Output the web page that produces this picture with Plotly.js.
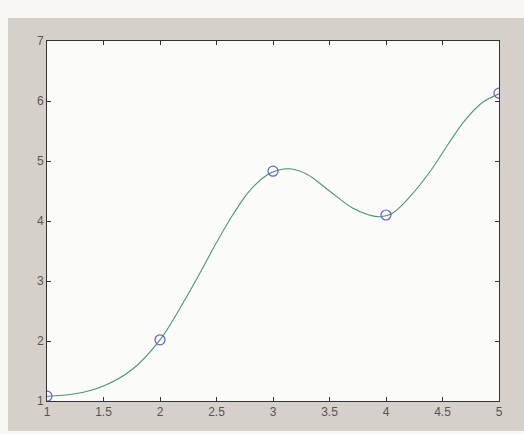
<!DOCTYPE html>
<html>
<head>
<meta charset="utf-8">
<script src="https://cdn.plot.ly/plotly-3.0.1.min.js"></script>
<style>html,body{margin:0;padding:0;background:#f8f7f4;}#chart{width:524px;height:434px;}</style>
</head>
<body>
<div id="chart"></div>
<script>
// Data points (markers)
const pointX = [1, 2, 3, 4, 5];
const pointY = [1.08, 2.02, 4.83, 4.1, 6.13];

// Interpolated curve
const curveX = [1, 1.25, 1.5, 1.75, 2, 2.2, 2.35, 2.5, 2.65, 2.8, 2.95, 3.05, 3.15, 3.3, 3.5, 3.7, 3.85, 3.95, 4.05, 4.2, 4.4, 4.55, 4.7, 4.85, 5];
const curveY = [1.08, 1.12, 1.25, 1.52, 2.02, 2.62, 3.12, 3.64, 4.12, 4.52, 4.77, 4.85, 4.87, 4.78, 4.5, 4.22, 4.1, 4.07, 4.12, 4.38, 4.85, 5.28, 5.68, 5.97, 6.12];

const xTicks = [1, 1.5, 2, 2.5, 3, 3.5, 4, 4.5, 5];
const xTickText = ['1', '1.5', '2', '2.5', '3', '3.5', '4', '4.5', '5'];
const yTicks = [1, 2, 3, 4, 5, 6, 7];
const yTickText = ['1', '2', '3', '4', '5', '6', '7'];

const W = 524, H = 434;
const mL = 47, mR = 25, mT = 41, mB = 33;
const pw = W - mL - mR, ph = H - mT - mB;
function px(x) { return (x - mL) / pw; }
function py(y) { return (H - mB - y) / ph; }

const traces = [
  {
    x: curveX, y: curveY, type: 'scatter', mode: 'lines',
    line: {color: '#4a9478', width: 1.1, shape: 'spline', smoothing: 1},
    hoverinfo: 'skip'
  },
  {
    x: pointX, y: pointY, type: 'scatter', mode: 'markers',
    marker: {symbol: 'circle-open', size: 10, color: '#6a5cc4', line: {width: 1.2, color: '#6a5cc4'}}
  }
];

const axisCommon = {
  showgrid: false, zeroline: false,
  showline: true, linecolor: '#333', linewidth: 1, mirror: 'ticks',
  ticks: 'inside', ticklen: 4, tickcolor: '#333', tickwidth: 1,
  tickfont: {family: 'Liberation Sans, Arial, sans-serif', size: 12, color: '#555'}
};

const layout = {
  width: W, height: H,
  margin: {l: mL, r: mR, t: mT, b: mB, pad: 0},
  paper_bgcolor: '#d5d1ca',
  plot_bgcolor: '#fbfbf9',
  showlegend: false,
  xaxis: Object.assign({}, axisCommon, {range: [1, 5], tickvals: xTicks, ticktext: xTickText}),
  yaxis: Object.assign({}, axisCommon, {range: [1, 7], tickvals: yTicks, ticktext: yTickText}),
  shapes: [
    {type: 'rect', xref: 'paper', yref: 'paper', x0: px(0), x1: px(W), y0: py(0), y1: py(18), fillcolor: '#f8f7f4', line: {width: 0}, layer: 'below'},
    {type: 'rect', xref: 'paper', yref: 'paper', x0: px(0), x1: px(8), y0: py(0), y1: py(H), fillcolor: '#f8f7f4', line: {width: 0}, layer: 'below'},
    {type: 'rect', xref: 'paper', yref: 'paper', x0: px(0), x1: px(W), y0: py(431), y1: py(H), fillcolor: '#f8f7f4', line: {width: 0}, layer: 'below'}
  ]
};

Plotly.newPlot('chart', traces, layout, {displayModeBar: false, staticPlot: true});
</script>
</body>
</html>
